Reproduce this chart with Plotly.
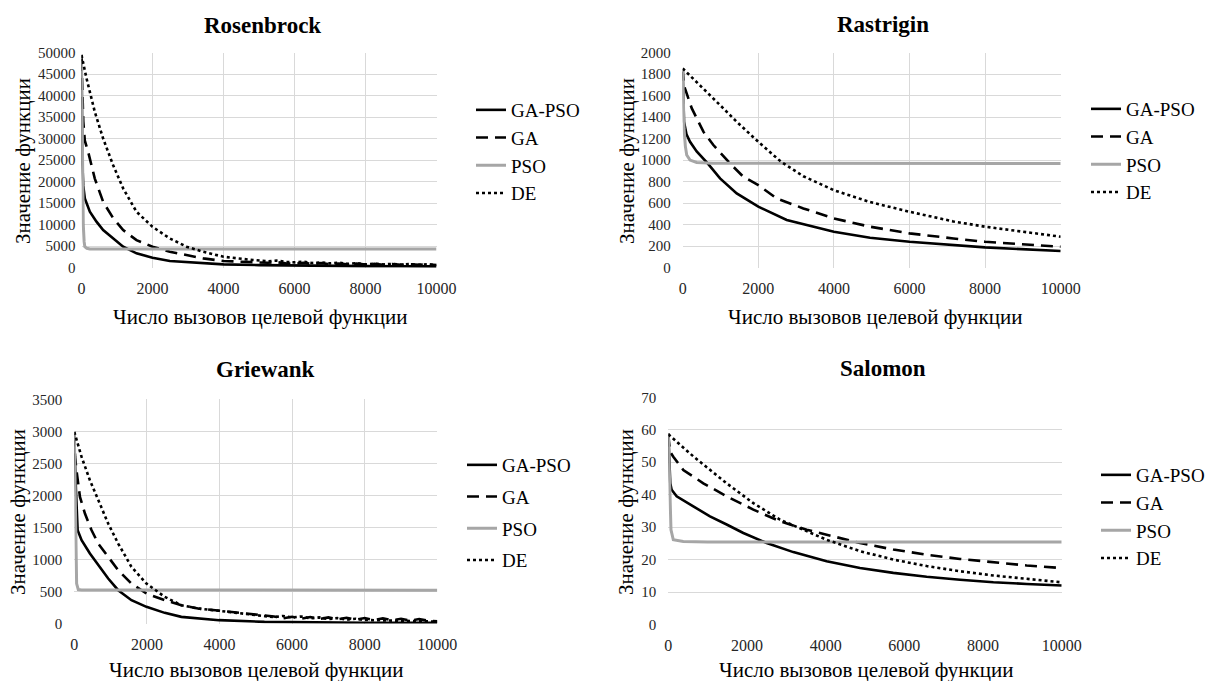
import plotly.graph_objects as go

# Convergence curves: objective value vs. number of objective-function calls
# ---------------------------------------------------------------------------
# Rosenbrock
ros_gapso_x = [0, 10, 25, 50, 94, 235, 422, 610, 892, 1174, 1549, 2000, 2488, 3427, 4000, 5000, 6000, 7000, 8000, 9000, 10000]
ros_gapso_y = [49500, 36000, 24000, 19000, 16100, 13000, 10700, 8750, 6800, 4880, 3330, 2320, 1550, 1000, 780, 600, 480, 420, 370, 330, 300]
ros_ga_x = [0, 20, 50, 94, 188, 375, 610, 892, 1174, 1549, 2000, 2488, 2958, 3427, 4000, 4400, 4835, 5250, 5500, 5750, 6000,
            6250, 6500, 6750, 7000, 7250, 7500, 7750, 8000, 8250, 8500, 8750, 9000, 9250, 9500, 9750, 10000]
ros_ga_y = [48500, 40000, 34000, 29500, 26900, 20700, 15300, 11500, 8750, 6400, 4880, 3700, 2900, 2170, 1550, 1400, 1240, 1150, 1300, 1000, 930,
            1120, 850, 1050, 820, 980, 760, 940, 720, 900, 700, 860, 680, 820, 650, 780, 620]
ros_de_x = [0, 141, 375, 610, 892, 1174, 1549, 2000, 2488, 2958, 3427, 4000, 4835, 5250, 5500, 5750, 6000, 6250, 6500, 6750, 7000,
            7250, 7500, 7750, 8000, 8250, 8500, 8750, 9000, 9250, 9500, 9750, 10000]
ros_de_y = [49400, 44000, 36200, 30000, 23800, 18400, 13000, 9500, 6800, 4880, 3700, 2550, 1780, 1500, 1650, 1350, 1240, 1400, 1100, 1250, 1000,
            1150, 900, 1050, 775, 950, 740, 900, 700, 850, 680, 800, 620]
ros_pso_x = [0, 15, 30, 50, 75, 94, 150, 235, 500, 10000]
ros_pso_y = [48000, 34000, 20000, 10000, 6000, 4880, 4500, 4350, 4330, 4330]

# Rastrigin
ras_gapso_x = [0, 10, 35, 100, 194, 370, 661, 988, 1429, 2000, 2751, 4000, 4956, 6000, 7161, 8000, 10000]
ras_gapso_y = [1821, 1600, 1356, 1240, 1170, 1080, 969, 830, 690, 567, 443, 334, 279, 241, 211, 189, 155]
ras_ga_x = [0, 30, 60, 238, 547, 811, 1252, 1605, 2000, 2487, 3192, 4000, 4956, 6000, 7161, 8000, 10000]
ras_ga_y = [1850, 1700, 1666, 1483, 1264, 1140, 969, 845, 768, 644, 551, 458, 381, 319, 272, 241, 195]
ras_de_x = [0, 547, 988, 1429, 2000, 2600, 3192, 4000, 4956, 6000, 7161, 8000, 10000]
ras_de_y = [1852, 1666, 1511, 1356, 1170, 985, 850, 720, 610, 520, 430, 381, 288]
ras_pso_x = [0, 15, 35, 70, 106, 194, 370, 800, 10000]
ras_pso_y = [1837, 1550, 1294, 1130, 1047, 1000, 978, 970, 969]

# Griewank
gri_gapso_x = [0, 20, 46, 92, 201, 430, 659, 934, 1209, 1575, 1987, 2491, 2949, 3984, 5238, 6500, 8000, 10000]
gri_gapso_y = [2860, 2400, 2080, 1456, 1300, 1092, 910, 702, 520, 364, 260, 166, 104, 52, 26, 15, 10, 10]
gri_ga_x = [0, 20, 60, 156, 293, 476, 659, 934, 1209, 1575, 1987, 2491, 2949, 3407, 3984, 4780, 5250, 5500, 5750, 6000, 6250,
            6500, 6750, 7000, 7250, 7500, 7750, 8000, 8250, 8500, 8750, 9000, 9250, 9500, 9750, 10000]
gri_ga_y = [2950, 2600, 2392, 1976, 1716, 1456, 1248, 1040, 832, 624, 468, 364, 286, 234, 198, 146, 120, 110, 80, 104, 75,
            100, 70, 95, 65, 90, 60, 85, 55, 80, 50, 75, 45, 70, 42, 36]
gri_de_x = [0, 201, 430, 659, 934, 1209, 1575, 1987, 2491, 2949, 3407, 3984, 4780, 5250, 5500, 5750, 6000, 6250, 6500, 6750,
            7000, 7250, 7500, 7750, 8000, 8500, 9000, 9500, 10000]
gri_de_y = [2990, 2600, 2236, 1924, 1560, 1248, 884, 624, 416, 286, 234, 198, 140, 115, 100, 118, 95, 110, 80, 95,
            70, 85, 60, 75, 55, 50, 42, 38, 30]
gri_pso_x = [0, 15, 37, 64, 110, 200, 10000]
gri_pso_y = [2990, 2400, 1560, 624, 530, 522, 520]

# Salomon
sal_gapso_x = [0, 25, 50, 85, 212, 636, 1059, 1483, 1907, 2500, 3178, 4025, 4873, 5720, 6568, 7415, 8263, 9110, 10000]
sal_gapso_y = [58.9, 48.0, 43.5, 41.5, 39.5, 36.4, 33.3, 30.8, 28.2, 25.1, 22.3, 19.5, 17.4, 15.9, 14.7, 13.8, 13.0, 12.5, 12.0]
sal_ga_x = [0, 20, 42, 127, 381, 890, 1483, 2161, 2839, 3517, 4195, 4873, 5720, 6568, 7415, 8263, 9110, 10000]
sal_ga_y = [58.5, 54.5, 53.3, 51.7, 47.6, 43.5, 39.5, 35.4, 31.8, 29.2, 27.2, 25.1, 23.1, 21.5, 20.2, 19.2, 18.2, 17.4]
sal_de_x = [0, 636, 1483, 2161, 2839, 3517, 4025, 4873, 5720, 6568, 7415, 8263, 9110, 10000]
sal_de_y = [58.6, 51.8, 43.5, 37.4, 32.3, 28.7, 26.1, 22.6, 20.0, 18.0, 16.4, 15.1, 14.0, 13.0]
sal_pso_x = [0, 20, 42, 68, 127, 381, 1000, 10000]
sal_pso_y = [58.9, 50.0, 41.5, 29.2, 26.1, 25.6, 25.4, 25.4]

# Axis setup
x_range = [0, 10000]
x_tick = 2000
ros_range, ros_tick = [0, 50000], 5000
ras_range, ras_tick = [0, 2000], 200
gri_range, gri_tick = [0, 3500], 500
sal_range, sal_tick = [0, 70], 10

titles = ["Rosenbrock", "Rastrigin", "Griewank", "Salomon"]
series_names = ["GA-PSO", "GA", "PSO", "DE"]
x_title = "Число вызовов целевой функции"
y_title = "Значение функции"

W, H = 1207, 681
SERIF = "'Liberation Serif', 'Times New Roman', Times, serif"

# plot-area boxes in pixels: (left, right, top, bottom)
boxes = [
    (81.5, 436.5, 52.5, 267.7),
    (682.7, 1060.7, 52.5, 267.7),
    (74.3, 437.3, 399.3, 623.5),
    (668.3, 1061.7, 397.3, 624.5),
]

styles = {
    "GA-PSO": dict(color="#000000", width=2.6, dash="solid"),
    "GA": dict(color="#000000", width=2.6, dash="12px,7px"),
    "PSO": dict(color="#a6a6a6", width=3, dash="solid"),
    "DE": dict(color="#000000", width=2.6, dash="dot"),
}

panels = [
    dict(data=[(ros_gapso_x, ros_gapso_y), (ros_ga_x, ros_ga_y), (ros_pso_x, ros_pso_y), (ros_de_x, ros_de_y)],
         yr=ros_range, dt=ros_tick, vgrid=True, ypad=5),
    dict(data=[(ras_gapso_x, ras_gapso_y), (ras_ga_x, ras_ga_y), (ras_pso_x, ras_pso_y), (ras_de_x, ras_de_y)],
         yr=ras_range, dt=ras_tick, vgrid=True, ypad=11),
    dict(data=[(gri_gapso_x, gri_gapso_y), (gri_ga_x, gri_ga_y), (gri_pso_x, gri_pso_y), (gri_de_x, gri_de_y)],
         yr=gri_range, dt=gri_tick, vgrid=True, ypad=11),
    dict(data=[(sal_gapso_x, sal_gapso_y), (sal_ga_x, sal_ga_y), (sal_pso_x, sal_pso_y), (sal_de_x, sal_de_y)],
         yr=sal_range, dt=sal_tick, vgrid=False, ypad=11),
]

# legend anchor (left of legend box, top of legend) and gap between rows
legend_pos = [(471, 91, 0), (1086, 90, 0), (462, 446, 4), (1096, 456, 0)]

# title centres, y-title centres, x-title centres
title_pos = [(262, 26), (883, 24), (265, 369), (883, 368)]
ytitle_pos = [(23, 161), (627, 161), (18, 512), (626, 512)]
xtitle_pos = [(260, 317), (875, 317), (256, 670), (866, 670)]

fig = go.Figure()
layout = dict(
    width=W, height=H, margin=dict(l=0, r=0, t=0, b=0, autoexpand=False),
    paper_bgcolor="white", plot_bgcolor="white",
    font=dict(family=SERIF, color="#000000"),
    annotations=[],
)

for i, p in enumerate(panels):
    n = i + 1
    xa = "xaxis" if n == 1 else f"xaxis{n}"
    ya = "yaxis" if n == 1 else f"yaxis{n}"
    xref = "x" if n == 1 else f"x{n}"
    yref = "y" if n == 1 else f"y{n}"
    lg = "legend" if n == 1 else f"legend{n}"
    l, r, t, b = boxes[i]
    layout[xa] = dict(
        domain=[l / W, r / W], anchor=yref, range=x_range, dtick=x_tick, tick0=0,
        tickformat="d",
        showgrid=p["vgrid"], gridcolor="#d9d9d9", gridwidth=1, zeroline=False,
        showline=False, ticks="", ticklabelstandoff=9,
        tickfont=dict(family=SERIF, size=16, color="#262626"),
    )
    layout[ya] = dict(
        domain=[1 - b / H, 1 - t / H], anchor=xref, range=p["yr"], dtick=p["dt"], tick0=0,
        tickformat="d",
        showgrid=True, gridcolor="#d9d9d9", gridwidth=1, zeroline=False,
        showline=False, ticks="", ticklabelstandoff=p["ypad"],
        tickfont=dict(family=SERIF, size=15, color="#262626"),
    )
    lx, ly, gap = legend_pos[i]
    layout[lg] = dict(
        x=lx / W, y=1 - ly / H, xanchor="left", yanchor="top",
        bgcolor="rgba(0,0,0,0)", traceorder="grouped", tracegroupgap=gap,
        font=dict(family=SERIF, size=19, color="#000000"), itemwidth=30,
    )
    for name, (xs, ys) in zip(series_names, p["data"]):
        st = styles[name]
        fig.add_trace(go.Scatter(
            x=xs, y=ys, mode="lines", name=name, xaxis=xref, yaxis=yref,
            legend=lg, legendgroup=f"{name}{n}",
            line=dict(color=st["color"], width=st["width"], dash=st["dash"]),
        ))
    # panel title
    tx, ty = title_pos[i]
    layout["annotations"].append(dict(
        text=f"<b>{titles[i]}</b>", x=tx / W, y=1 - ty / H, xref="paper", yref="paper",
        showarrow=False, xanchor="center", yanchor="middle",
        font=dict(family=SERIF, size=23, color="#000000"),
    ))
    # axis titles
    yx, yy = ytitle_pos[i]
    layout["annotations"].append(dict(
        text=y_title, x=yx / W, y=1 - yy / H, xref="paper", yref="paper", textangle=-90,
        showarrow=False, xanchor="center", yanchor="middle",
        font=dict(family=SERIF, size=21, color="#000000"),
    ))
    xx, xy = xtitle_pos[i]
    layout["annotations"].append(dict(
        text=x_title, x=xx / W, y=1 - xy / H, xref="paper", yref="paper",
        showarrow=False, xanchor="center", yanchor="middle",
        font=dict(family=SERIF, size=21, color="#000000"),
    ))

fig.update_layout(**layout)
fig.write_html("out.html")
